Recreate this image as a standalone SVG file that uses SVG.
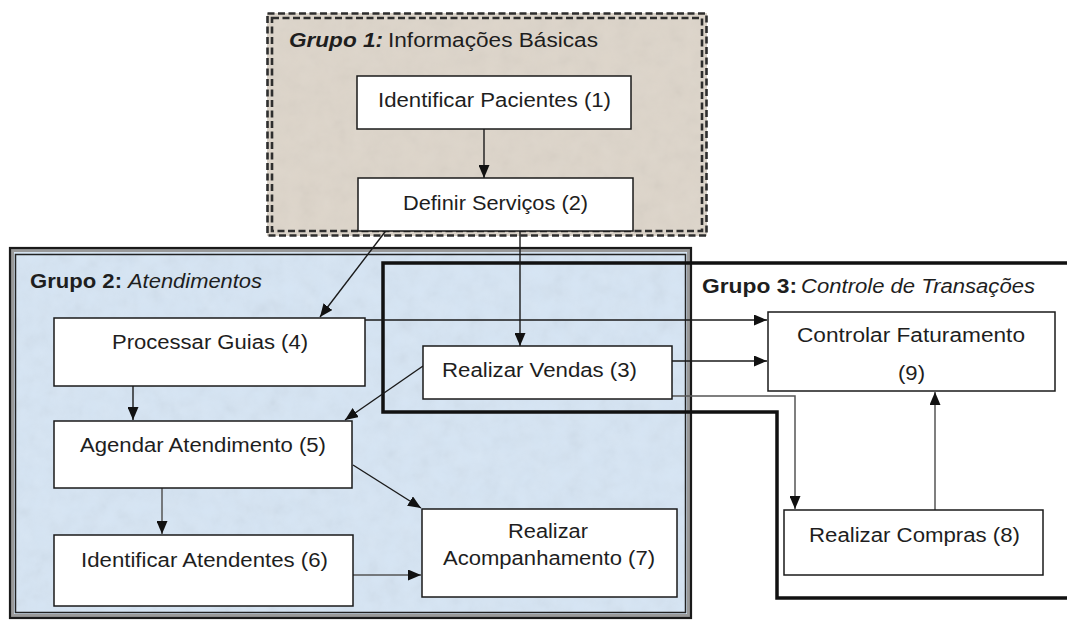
<svg xmlns="http://www.w3.org/2000/svg" width="1067" height="621" viewBox="0 0 1067 621">
<style>
.node{fill:#fff;stroke:#1a1a1a;stroke-width:1.5}
.t{font-family:"Liberation Sans",Arial,sans-serif;font-size:20px;fill:#1e1e1e}
.b{font-weight:bold}
.i{font-style:italic}
.c{fill:none;stroke:#1a1a1a;stroke-width:1.4}
.g{fill:none;stroke:#555;stroke-width:1.5}
.dash{fill:none;stroke:#2e2e2e;stroke-width:2.6;stroke-dasharray:7 3.5}
</style>
<defs>
<marker id="ah" viewBox="0 0 13 11" refX="13" refY="5.5" markerWidth="13" markerHeight="11" markerUnits="userSpaceOnUse" orient="auto">
<path d="M0,0 L13,5.5 L0,11 z" fill="#111"/>
</marker>
<filter id="noise" x="0" y="0" width="1" height="1">
<feTurbulence type="fractalNoise" baseFrequency="0.06" numOctaves="3" seed="7"/>
<feColorMatrix type="saturate" values="0"/>
</filter>
</defs>
<rect width="1067" height="621" fill="#fff"/>

<g id="group1">
<rect x="267" y="13" width="440" height="223" fill="#ddd5ca"/>
<rect x="267" y="13" width="440" height="223" filter="url(#noise)" opacity="0.1"/>
<rect class="dash" x="267.5" y="13.5" width="439" height="222"/>
<rect class="dash" x="272" y="18" width="430" height="213"/>
<text class="t b i" x="289" y="47" textLength="94" lengthAdjust="spacingAndGlyphs">Grupo 1:</text>
<text class="t" x="388" y="47" textLength="210" lengthAdjust="spacingAndGlyphs">Informações  Básicas</text>
</g>

<g id="group2">
<rect x="9" y="247" width="683" height="372" fill="#d6e5f4"/>
<rect x="9" y="247" width="683" height="372" filter="url(#noise)" opacity="0.12"/>
<rect x="12" y="250" width="677" height="366" fill="none" stroke="#9a9a9a" stroke-width="4"/>
<rect x="10" y="248" width="681" height="370" fill="none" stroke="#1a1a1a" stroke-width="2.2"/>
<rect x="15.5" y="254.5" width="670" height="358" fill="none" stroke="#222" stroke-width="1.5"/>
<text class="t b" x="30" y="288" textLength="92" lengthAdjust="spacingAndGlyphs">Grupo 2:</text>
<text class="t i" x="128" y="288" textLength="134" lengthAdjust="spacingAndGlyphs">Atendimentos</text>
</g>

<g id="group3">
<path d="M1067,263 H383 V412 H777 V598 H1067" fill="none" stroke="#111" stroke-width="3.5"/>
<text class="t b" x="702" y="293" textLength="95" lengthAdjust="spacingAndGlyphs">Grupo 3:</text>
<text class="t i" x="801" y="293" textLength="234" lengthAdjust="spacingAndGlyphs">Controle de Transações</text>
</g>

<g id="connectors">
<line class="c" x1="484" y1="129" x2="484" y2="178" marker-end="url(#ah)"/>
<line class="c" x1="388" y1="228" x2="320" y2="317" marker-end="url(#ah)"/>
<line class="c" x1="520" y1="231" x2="520" y2="346" marker-end="url(#ah)"/>
<line class="c" x1="365" y1="320" x2="767" y2="320" marker-end="url(#ah)"/>
<line class="c" x1="672" y1="361" x2="767" y2="361" marker-end="url(#ah)"/>
<polyline class="g" points="672,396 795,396 795,509" marker-end="url(#ah)"/>
<line class="g" x1="935" y1="510" x2="935" y2="392" marker-end="url(#ah)"/>
<line class="c" x1="423" y1="366" x2="345" y2="420" marker-end="url(#ah)"/>
<line class="c" x1="133" y1="386" x2="133" y2="420" marker-end="url(#ah)"/>
<line class="g" x1="162" y1="488" x2="162" y2="534" marker-end="url(#ah)"/>
<line class="c" x1="353" y1="465" x2="421" y2="508" marker-end="url(#ah)"/>
<line class="g" x1="353" y1="575" x2="421" y2="575" marker-end="url(#ah)"/>
</g>

<g id="n1">
<rect class="node" x="357" y="76" width="274" height="53"/>
<text class="t" x="378" y="107" textLength="233" lengthAdjust="spacingAndGlyphs">Identificar Pacientes (1)</text>
</g>
<g id="n2">
<rect class="node" x="358" y="178" width="275" height="53"/>
<text class="t" x="403" y="210" textLength="185" lengthAdjust="spacingAndGlyphs">Definir Serviços (2)</text>
</g>
<g id="n3">
<rect class="node" x="423" y="346" width="249" height="53"/>
<text class="t" x="442" y="377" textLength="195" lengthAdjust="spacingAndGlyphs">Realizar Vendas (3)</text>
</g>
<g id="n4">
<rect class="node" x="54" y="318" width="311" height="68"/>
<text class="t" x="112" y="349" textLength="196" lengthAdjust="spacingAndGlyphs">Processar Guias (4)</text>
</g>
<g id="n5">
<rect class="node" x="54" y="421" width="298" height="67"/>
<text class="t" x="80" y="452" textLength="246" lengthAdjust="spacingAndGlyphs">Agendar Atendimento (5)</text>
</g>
<g id="n6">
<rect class="node" x="54" y="535" width="299" height="71"/>
<text class="t" x="81" y="567" textLength="247" lengthAdjust="spacingAndGlyphs">Identificar Atendentes (6)</text>
</g>
<g id="n7">
<rect class="node" x="422" y="509" width="255" height="88"/>
<text class="t" x="508" y="538" textLength="80" lengthAdjust="spacingAndGlyphs">Realizar</text>
<text class="t" x="443" y="565" textLength="212" lengthAdjust="spacingAndGlyphs">Acompanhamento (7)</text>
</g>
<g id="n8">
<rect class="node" x="784" y="510" width="259" height="65"/>
<text class="t" x="809" y="542" textLength="211" lengthAdjust="spacingAndGlyphs">Realizar Compras (8)</text>
</g>
<g id="n9">
<rect class="node" x="768" y="312" width="287" height="79"/>
<text class="t" x="797" y="342" textLength="228" lengthAdjust="spacingAndGlyphs">Controlar  Faturamento</text>
<text class="t" x="898" y="380" textLength="27" lengthAdjust="spacingAndGlyphs">(9)</text>
</g>
</svg>
